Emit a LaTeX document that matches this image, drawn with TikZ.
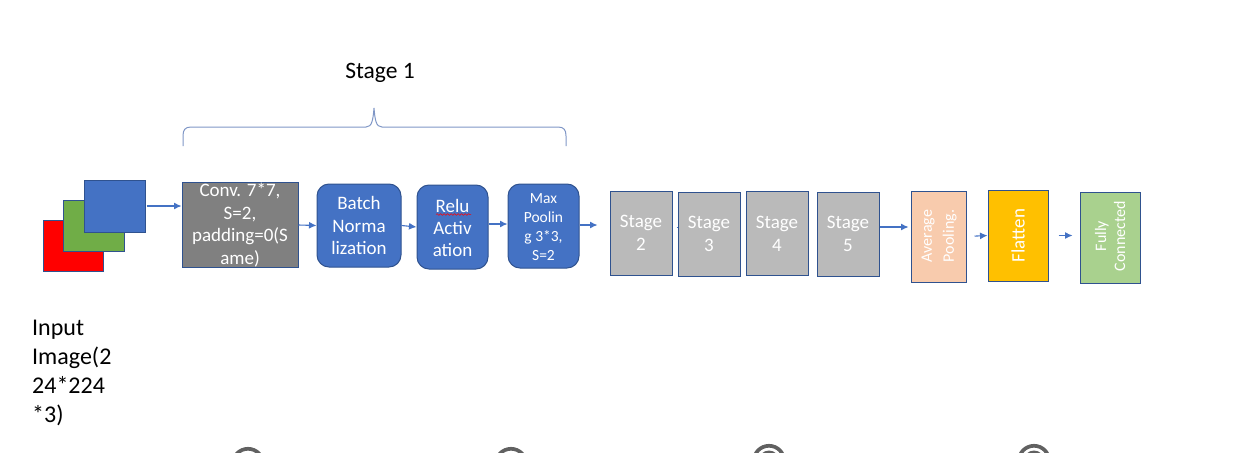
\documentclass[tikz,border=0pt]{standalone}
\usepackage{fontspec}
\setmainfont{Carlito}
\usetikzlibrary{arrows.meta,decorations.pathmorphing}
\definecolor{bluefill}{HTML}{4472C4}
\definecolor{blueedge}{HTML}{2F528F}
\definecolor{bracecol}{HTML}{7F96C6}
\definecolor{stagegray}{HTML}{BABABA}
\definecolor{greenimgcol}{HTML}{70AD47}
\definecolor{avgcol}{HTML}{F8CBAD}
\definecolor{flatcol}{HTML}{FFC000}
\definecolor{fullcol}{HTML}{A9D18E}
\tikzset{
	box/.style={draw=blueedge,line width=1pt,inner sep=0pt,text=white,align=center},
	round/.style={box,fill=bluefill,rounded corners=12pt},
	stagebox/.style={box,fill=stagegray,minimum width=62pt,minimum height=84pt,font=\fontsize{19}{23}\selectfont},
	link/.style={draw=bluefill,line width=1.1pt,-{Latex[length=7.5pt,width=7pt]}},
	eye/.style={draw=black!62,line width=3.7pt}
}
\begin{document}
\begin{tikzpicture}[x=1pt,y=-1pt]
	\useasboundingbox (0,0) rectangle (1246,452);
	\clip (0,0) rectangle (1246,452);
	\node[font=\fontsize{23.5}{28}\selectfont] (stagetitle) at (380,73) {Stage 1};
	\draw[bracecol,line width=1pt] (183,146) -- (183,136) .. controls (183,130) and (185,127) .. (191,127) -- (366,127) .. controls (372,127) and (373,120) .. (374,108) .. controls (375,120) and (376,127) .. (382,127) -- (558,127) .. controls (564,127) and (566,130) .. (566,136) -- (566,146);
	\node[box,fill=red,minimum width=60pt,minimum height=51pt] (redimg) at (73,245.5) {};
	\node[box,fill=greenimgcol,minimum width=61pt,minimum height=51pt] (greenimg) at (93.5,225.5) {};
	\node[box,fill=bluefill,minimum width=61pt,minimum height=52pt] (blueimg) at (114.5,206) {};
	\node[anchor=north west,align=left,font=\fontsize{24}{29}\selectfont,inner sep=0pt] (input) at (32,320) {Input\\Image(2\\24*224\\*3)};
	\node[box,fill=black!50,minimum width=116pt,minimum height=84pt,font=\fontsize{19}{22.7}\selectfont] (conv) at (240,225) {Conv. 7*7,\\S=2,\\padding=0(S\\ame)};
	\node[round,minimum width=84pt,minimum height=83pt,font=\fontsize{19}{22.5}\selectfont] (batch) at (359,225.5) {Batch\\Norma\\lization};
	\node[round,minimum width=71pt,minimum height=84pt] (relu) at (452.5,227) {};
	\node[text=white,align=center,font=\fontsize{19}{22}\selectfont,inner sep=0pt] (relutext) at (452.5,227.5) {Relu\\Activ\\ation};
	\node[round,minimum width=71pt,minimum height=84pt] (maxpool) at (543.5,226) {};
	\node[text=white,align=center,font=\fontsize{15.5}{19}\selectfont,inner sep=0pt] (maxtext) at (543.5,227) {Max\\Poolin\\g 3*3,\\S=2};
	\node[stagebox] (stagetwo) at (641,233) {Stage\\2};
	\node[stagebox] (stagethree) at (709,234) {Stage\\3};
	\node[stagebox] (stagefour) at (777,233.5) {Stage\\4};
	\node[stagebox] (stagefive) at (848,234) {Stage\\5};
	\node[box,fill=avgcol,minimum width=55pt,minimum height=91pt] (avgpool) at (938.5,236.5) {};
	\node[rotate=90,text=white,align=center,font=\fontsize{16}{22}\selectfont,inner sep=0pt] (avgtext) at (939,236) {Average\\Pooling.};
	\node[box,fill=flatcol,minimum width=60pt,minimum height=91pt] (flatten) at (1018,235.5) {};
	\node[rotate=90,text=white,font=\fontsize{19}{20}\selectfont,inner sep=0pt] (flattentext) at (1018,235.5) {Flatten};
	\node[box,fill=fullcol,minimum width=60pt,minimum height=91pt] (fullconn) at (1110,237.5) {};
	\node[rotate=90,text=white,align=center,font=\fontsize{16}{19}\selectfont,inner sep=0pt] (fulltext) at (1110,236) {Fully\\Connected};
	\draw[red,line width=0.5pt,decorate,decoration={snake,amplitude=0.8pt,segment length=3.5pt}] (436,214.5) -- (471,214.5);
	\draw[link] (blueimg.east) ++(1,0) -- (blueimg.east -| conv.west);
	\draw[link] (conv.east) -- (batch.west);
	\draw[link] (batch.east) -- (relu.west);
	\draw[link] ([yshift=3pt]relu.east) -- ([yshift=2pt]maxpool.west);
	\draw[link,shorten >=12pt] ([yshift=1pt]maxpool.east) -- ([yshift=8pt]stagetwo.west);
	\draw[draw=bluefill,line width=1pt,shorten <=4pt] ([yshift=6pt]stagetwo.east) -- ([yshift=7pt]stagethree.west);
	\draw[link,shorten >=2pt] ([yshift=7pt]stagefive.east) -- ([yshift=9.5pt]avgpool.west);
	\draw[link,shorten <=8pt] (avgpool.east) -- (flatten.west);
	\draw[link,shorten <=10pt,shorten >=7pt] (flatten.east) -- ([yshift=2pt]fullconn.west);
	\foreach \cx/\cy/\ri in {248/464/10,511/464/10,769/461/10.5,1034/461/10.5}{
		\draw[eye] (\cx,\cy) circle (15.2pt);
		\fill[black!62] (\cx,\cy) circle (\ri pt);
	}
\end{tikzpicture}
\end{document}
